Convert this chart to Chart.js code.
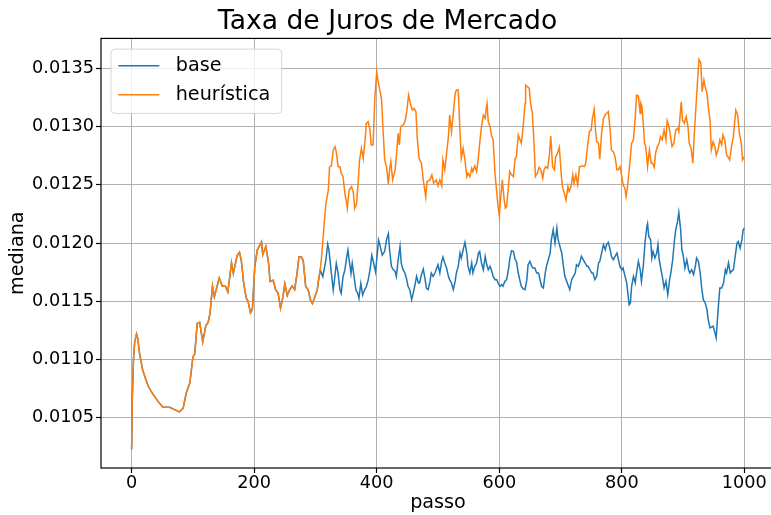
<!DOCTYPE html>
<html>
<head>
<meta charset="utf-8">
<script src="https://cdn.jsdelivr.net/npm/chart.js@4.4.1/dist/chart.umd.min.js"></script>
<style>
  html, body { margin: 0; padding: 0; overflow: hidden; background: #ffffff; }
  #wrap { width: 780px; height: 515px; }
</style>
</head>
<body>
<div id="wrap"><canvas id="chart" width="780" height="515"></canvas></div>
<script>
// ---- text ----
const chartTitle = 'Taxa de Juros de Mercado';
const xLabel = 'passo';
const yLabel = 'mediana';
const seriesNames = ['base', 'heurística'];
const seriesColors = ['#1f77b4', '#ff7f0e'];

// ---- axis ticks ----
const xTicks = [0, 200, 400, 600, 800, 1000];
const yTicks = [0.0105, 0.0110, 0.0115, 0.0120, 0.0125, 0.0130, 0.0135];

// ---- first stretch, identical for both runs (steps 0..305) ----
const commonSteps = [0,1,3,5,8,10,13,18,27,35,43,51,62,70,78,84,89,95,100,103,107,111,116,121,125,128,132,135,143,148,153,157,163,166,172,176,179,183,187,190,194,197,201,205,209,212,214,219,223,226,231,235,239,243,247,250,254,258,262,266,270,273,277,280,284,288,292,295,299,303,305];
const commonValues = [0.01023,0.01065,0.01100,0.01115,0.01122,0.01118,0.01105,0.01091,0.01077,0.01070,0.01064,0.01059,0.01059,0.01057,0.01055,0.01058,0.01071,0.01080,0.01102,0.01105,0.01131,0.01132,0.01115,0.01129,0.01132,0.01140,0.01163,0.01154,0.01170,0.01163,0.01163,0.01158,0.01183,0.01174,0.01189,0.01192,0.01185,0.01165,0.01153,0.01150,0.01140,0.01143,0.01180,0.01194,0.01198,0.01201,0.01190,0.01197,0.01185,0.01167,0.01168,0.01160,0.01157,0.01144,0.01154,0.01165,0.01155,0.01160,0.01163,0.01160,0.01174,0.01188,0.01188,0.01185,0.01163,0.01160,0.01151,0.01148,0.01154,0.01160,0.01168];

// ---- base run after the split: [step, median] ----
const baseTail = [
  [308,0.011768],[312,0.011711],[317,0.011854],[320,0.011991],[322,0.011940],[326,0.011740],[329,0.011596],[331,0.011682],
  [334,0.011826],[337,0.011740],[340,0.011596],[342,0.011568],[345,0.011711],[348,0.011768],[351,0.011882],[353,0.011940],
  [355,0.011854],[358,0.011740],[360,0.011826],[363,0.011711],[366,0.011596],[369,0.011568],[371,0.011525],[374,0.011654],
  [377,0.011553],[380,0.011596],[383,0.011625],[386,0.011682],[389,0.011768],[392,0.011897],[395,0.011826],[398,0.011754],
  [401,0.011911],[403,0.012026],[406,0.011968],[409,0.011897],[413,0.011929],[416,0.012029],[419,0.012080],[421,0.011943],
  [424,0.011800],[427,0.011771],[430,0.011757],[432,0.011714],[435,0.011857],[438,0.011971],[440,0.011829],[443,0.011771],
  [446,0.011743],[449,0.011686],[451,0.011629],[454,0.011600],[457,0.011514],[459,0.011557],[462,0.011629],[465,0.011714],
  [468,0.011657],[470,0.011657],[473,0.011729],[476,0.011777],[479,0.011686],[481,0.011614],[484,0.011600],[487,0.011671],
  [489,0.011743],[492,0.011714],[495,0.011743],[498,0.011786],[500,0.011814],[503,0.011743],[506,0.011843],[508,0.011880],
  [511,0.011829],[514,0.011786],[517,0.011714],[519,0.011686],[522,0.011657],[525,0.011600],[528,0.011671],[530,0.011743],
  [533,0.011800],[536,0.011914],[538,0.011871],[541,0.011943],[544,0.012006],[547,0.011914],[549,0.011800],[552,0.011743],
  [555,0.011829],[557,0.011743],[560,0.011800],[563,0.011829],[566,0.011914],[568,0.011929],[571,0.011829],[574,0.011771],
  [577,0.011886],[579,0.011829],[582,0.011771],[585,0.011800],[587,0.011771],[590,0.011714],[593,0.011686],[596,0.011686],
  [598,0.011657],[601,0.011629],[604,0.011643],[606,0.011629],[609,0.011671],[612,0.011686],[615,0.011771],[617,0.011860],
  [620,0.011935],[623,0.011929],[626,0.011857],[628,0.011843],[631,0.011743],[634,0.011671],[636,0.011629],[639,0.011606],
  [642,0.011600],[645,0.011686],[647,0.011814],[650,0.011843],[653,0.011800],[655,0.011786],[658,0.011786],[661,0.011743],
  [664,0.011743],[666,0.011700],[669,0.011629],[672,0.011614],[675,0.011743],[677,0.011800],[680,0.011857],[683,0.011914],
  [685,0.012029],[688,0.012114],[691,0.012000],[694,0.012129],[696,0.012029],[699,0.011971],[702,0.011914],[704,0.011829],
  [707,0.011714],[710,0.011671],[713,0.011629],[715,0.011600],[718,0.011686],[721,0.011714],[724,0.011743],[726,0.011814],
  [729,0.011800],[732,0.011843],[734,0.011886],[737,0.011857],[740,0.011829],[743,0.011800],[745,0.011800],[748,0.011771],
  [751,0.011743],[753,0.011743],[756,0.011686],[759,0.011714],[762,0.011829],[764,0.011843],[767,0.011914],[770,0.011986],
  [773,0.011943],[775,0.011986],[778,0.012006],[781,0.011943],[783,0.011886],[786,0.011857],[789,0.011886],[792,0.011914],
  [794,0.011871],[797,0.011800],[800,0.011771],[802,0.011786],[805,0.011720],[808,0.011657],[811,0.011514],[812,0.011471],
  [814,0.011486],[816,0.011629],[819,0.011714],[822,0.011657],[824,0.011743],[827,0.011843],[830,0.011771],[832,0.011671],
  [835,0.011800],[838,0.012014],[841,0.012143],[842,0.012166],[844,0.012057],[847,0.012029],[849,0.011871],[851,0.011929],
  [854,0.011871],[857,0.011914],[859,0.011986],[861,0.011857],[864,0.011771],[867,0.011686],[869,0.011614],[872,0.011671],
  [875,0.011557],[878,0.011686],[880,0.011743],[883,0.011857],[886,0.012029],[888,0.012114],[891,0.012186],[893,0.012263],
  [896,0.012114],[898,0.011943],[900,0.011900],[903,0.011786],[906,0.011857],[909,0.011771],[911,0.011743],[914,0.011771],
  [917,0.011729],[920,0.011800],[922,0.011871],[925,0.011843],[928,0.011743],[930,0.011629],[933,0.011514],[936,0.011486],
  [939,0.011429],[941,0.011343],[944,0.011271],[947,0.011280],[949,0.011286],[952,0.011229],[954,0.011186],[956,0.011343],
  [958,0.011486],[960,0.011614],[963,0.011614],[966,0.011657],[969,0.011771],[971,0.011743],[974,0.011829],[977,0.011743],
  [979,0.011757],[982,0.011771],[985,0.011886],[988,0.012000],[990,0.012014],[993,0.011957],[996,0.012029],[998,0.012114],
  [1000,0.012129]
];

// ---- heuristic run after the split: [step, median] ----
const heurTail = [
  [308,0.011780],[310,0.011882],[313,0.012083],[317,0.012340],[321,0.012455],[323,0.012655],[326,0.012664],[329,0.012798],
  [332,0.012827],[334,0.012784],[337,0.012655],[340,0.012655],[342,0.012598],[345,0.012570],[348,0.012427],[351,0.012340],
  [352,0.012298],[355,0.012455],[359,0.012484],[362,0.012427],[364,0.012298],[367,0.012340],[370,0.012541],[372,0.012713],
  [375,0.012813],[378,0.012727],[381,0.012884],[383,0.013028],[386,0.013042],[389,0.012970],[391,0.012842],[394,0.012842],
  [397,0.013256],[400,0.013471],[402,0.013400],[405,0.013314],[408,0.013229],[410,0.013000],[413,0.012714],[416,0.012657],
  [419,0.012509],[421,0.012629],[423,0.012700],[426,0.012543],[430,0.012629],[432,0.012743],[435,0.012943],[437,0.012843],
  [439,0.013000],[443,0.013014],[446,0.013043],[449,0.013129],[452,0.013271],[455,0.013200],[458,0.013143],[461,0.013157],
  [464,0.013129],[466,0.012914],[469,0.012729],[473,0.012686],[476,0.012543],[480,0.012394],[482,0.012529],[487,0.012543],
  [490,0.012586],[493,0.012514],[497,0.012543],[500,0.012491],[503,0.012543],[506,0.012491],[508,0.012714],[511,0.012629],
  [514,0.012771],[517,0.012914],[519,0.013100],[522,0.012957],[525,0.013114],[528,0.013286],[530,0.013314],[533,0.013314],
  [536,0.012943],[538,0.012729],[541,0.012814],[544,0.012714],[547,0.012571],[549,0.012600],[552,0.012571],[555,0.012643],
  [557,0.012614],[560,0.012663],[563,0.012614],[566,0.012743],[568,0.012857],[571,0.013000],[574,0.013100],[577,0.013071],
  [579,0.013171],[580,0.013200],[582,0.013043],[585,0.013000],[587,0.012929],[590,0.012886],[593,0.012600],[596,0.012429],
  [598,0.012314],[600,0.012234],[602,0.012371],[605,0.012543],[608,0.012371],[610,0.012300],[612,0.012314],[615,0.012486],
  [617,0.012614],[620,0.012586],[623,0.012571],[626,0.012729],[628,0.012743],[631,0.012929],[634,0.012886],[636,0.012857],
  [639,0.013000],[642,0.013200],[643,0.013357],[646,0.013343],[649,0.013329],[651,0.013200],[654,0.013114],[657,0.012829],
  [659,0.012571],[662,0.012600],[665,0.012651],[668,0.012629],[671,0.012557],[673,0.012629],[676,0.012657],[679,0.012643],
  [682,0.012771],[684,0.012920],[687,0.012657],[690,0.012629],[692,0.012743],[695,0.012771],[698,0.012823],[701,0.012600],
  [703,0.012486],[706,0.012429],[709,0.012371],[712,0.012486],[714,0.012443],[717,0.012486],[720,0.012586],[722,0.012514],
  [725,0.012586],[728,0.012500],[731,0.012657],[733,0.012657],[736,0.012663],[739,0.012657],[741,0.012686],[744,0.012829],
  [747,0.012957],[750,0.012971],[752,0.013071],[755,0.013149],[757,0.012971],[759,0.012871],[762,0.012857],[764,0.012720],
  [767,0.012943],[770,0.013071],[773,0.013100],[775,0.013114],[778,0.013129],[781,0.012971],[783,0.012800],[786,0.012786],
  [789,0.012743],[792,0.012629],[794,0.012629],[797,0.012657],[800,0.012571],[802,0.012500],[805,0.012471],[807,0.012400],
  [809,0.012471],[812,0.012629],[814,0.012743],[816,0.012857],[819,0.012886],[822,0.013086],[824,0.013271],[827,0.013263],
  [830,0.013114],[831,0.013200],[833,0.013171],[835,0.013029],[837,0.012857],[839,0.012829],[842,0.012657],[845,0.012800],
  [848,0.012686],[850,0.012686],[853,0.012651],[855,0.012771],[858,0.012829],[861,0.012857],[863,0.012914],[866,0.012886],
  [869,0.012971],[872,0.012886],[874,0.013051],[877,0.013000],[880,0.012900],[882,0.012829],[885,0.012857],[888,0.012971],
  [891,0.012986],[893,0.012957],[895,0.013086],[897,0.013214],[899,0.013057],[902,0.013029],[905,0.013086],[908,0.013000],
  [910,0.012857],[913,0.012814],[916,0.012686],[918,0.012914],[921,0.013171],[924,0.013429],[926,0.013577],[929,0.013543],
  [931,0.013300],[934,0.013400],[936,0.013343],[939,0.013286],[942,0.013129],[944,0.013057],[946,0.012800],[949,0.012871],
  [952,0.012829],[954,0.012757],[957,0.012800],[960,0.012886],[963,0.012843],[965,0.012929],[968,0.012886],[971,0.012757],
  [973,0.012743],[976,0.012714],[979,0.012829],[982,0.012914],[984,0.013029],[986,0.013143],[989,0.013100],[992,0.012943],
  [995,0.012857],[997,0.012714],[1000,0.012743]
];

// ---- build point lists ----
function buildSeries(tail) {
  const pts = commonSteps.map((s, i) => ({ x: s, y: commonValues[i] }));
  tail.forEach(([s, v]) => pts.push({ x: s, y: v }));
  return pts;
}

const FONT = "'DejaVu Sans', 'Liberation Sans', sans-serif";
const LINE_W = 1.5;

// axes frame drawn over the lines
const frame = {
  id: 'frame',
  afterDatasetsDraw(chart) {
    const { ctx, chartArea: a } = chart;
    ctx.save();
    ctx.strokeStyle = '#000';
    ctx.lineWidth = 1.2;
    ctx.strokeRect(a.left, a.top, a.right - a.left, a.bottom - a.top);
    ctx.restore();
  }
};

// boxed legend in the upper-left corner of the plot
const boxLegend = {
  id: 'boxLegend',
  afterDraw(chart) {
    const { ctx, chartArea: a } = chart;
    const x = a.left + 10, y = a.top + 10.7, w = 170.7, h = 64.3;
    ctx.save();
    ctx.beginPath();
    ctx.roundRect(x, y, w, h, 4);
    ctx.fillStyle = 'rgba(255,255,255,0.8)';
    ctx.fill();
    ctx.strokeStyle = 'rgba(204,204,204,0.8)';
    ctx.lineWidth = 1;
    ctx.stroke();
    ctx.font = '19.2px ' + FONT;
    ctx.textBaseline = 'middle';
    ctx.textAlign = 'left';
    chart.data.datasets.forEach((ds, i) => {
      const ym = y + 16.7 + i * 29;
      ctx.beginPath();
      ctx.moveTo(x + 7.3, ym);
      ctx.lineTo(x + 48.3, ym);
      ctx.strokeStyle = ds.borderColor;
      ctx.lineWidth = LINE_W;
      ctx.stroke();
      ctx.fillStyle = '#000';
      ctx.fillText(ds.label, x + 64.7, ym);
    });
    ctx.restore();
  }
};

new Chart(document.getElementById('chart'), {
  type: 'line',
  data: {
    datasets: [
      { label: seriesNames[0], data: buildSeries(baseTail), borderColor: seriesColors[0],
        borderWidth: LINE_W, pointRadius: 0, tension: 0, fill: false, order: 1 },
      { label: seriesNames[1], data: buildSeries(heurTail), borderColor: seriesColors[1],
        borderWidth: LINE_W, pointRadius: 0, tension: 0, fill: false, order: 0 }
    ]
  },
  options: {
    responsive: false,
    animation: false,
    devicePixelRatio: 1,
    layout: { padding: { left: 0, right: 5, top: 0, bottom: 0 } },
    plugins: {
      legend: { display: false },
      tooltip: { enabled: false },
      title: {
        display: true, text: chartTitle, color: '#000',
        font: { family: FONT, size: 26.6, weight: 'normal', lineHeight: 1.2 },
        padding: { top: 6.5, bottom: 0 }
      }
    },
    scales: {
      x: {
        type: 'linear', min: -50, max: 1050,
        afterBuildTicks: s => { s.ticks = xTicks.map(v => ({ value: v })); },
        afterFit: s => { s.height = 47; },
        grid: { color: '#b0b0b0', lineWidth: 1, tickColor: '#000', tickLength: 5, tickWidth: 1.2 },
        border: { display: false },
        ticks: { color: '#000', font: { family: FONT, size: 17.7 }, padding: 0,
                 maxRotation: 0, autoSkip: false, callback: v => String(v) },
        title: { display: true, text: xLabel, color: '#000',
                 font: { family: FONT, size: 19.2 }, padding: { top: 0, bottom: 0 } }
      },
      y: {
        type: 'linear', min: 0.010068, max: 0.013758,
        afterBuildTicks: s => { s.ticks = yTicks.map(v => ({ value: v })); },
        afterFit: s => { s.width = 101; },
        grid: { color: '#b0b0b0', lineWidth: 1, tickColor: '#000', tickLength: 5, tickWidth: 1.2 },
        border: { display: false },
        ticks: { color: '#000', font: { family: FONT, size: 17.7 }, padding: 2,
                 autoSkip: false, callback: v => Number(v).toFixed(4) },
        title: { display: true, text: yLabel, color: '#000',
                 font: { family: FONT, size: 19.2 }, padding: { top: 6.9, bottom: 0 } }
      }
    }
  },
  plugins: [frame, boxLegend]
});
</script>
</body>
</html>
